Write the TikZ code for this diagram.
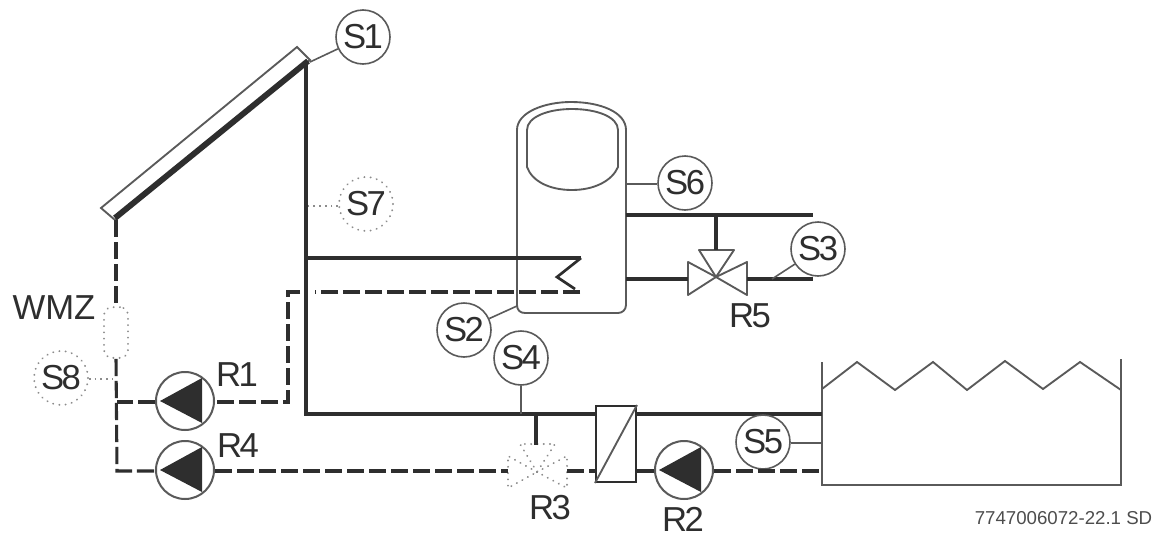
\documentclass[tikz,border=0pt]{standalone}
\usepackage{fontspec}
\setmainfont{Liberation Sans}
\newfontfamily\tagfont[LetterSpace=-7]{Liberation Sans}
\usetikzlibrary{calc}
\definecolor{ink}{HTML}{2E2E2E}
\definecolor{thinink}{HTML}{5A5A5A}
\definecolor{dotink}{HTML}{8C8C8C}
\tikzset{
  pipe/.style={draw=ink,line width=2.3pt},
  dpipe/.style={draw=ink,line width=2.3pt,dash pattern=on 13pt off 3.5pt},
  thin line/.style={draw=thinink,line width=1.4pt},
  lead/.style={draw=thinink,line width=1.2pt},
  dotlead/.style={draw=dotink,line width=1.3pt,dash pattern=on 1.3pt off 3pt},
  dotshape/.style={draw=dotink,line width=1.5pt,line cap=round,dash pattern=on 0.1pt off 4.6pt},
  lbl/.style={font=\tagfont\fontsize{26}{26}\selectfont,text=ink,inner sep=0pt},
  sensor/.style={circle,draw=thinink,line width=1.2pt,fill=white,minimum size=40.5pt,inner sep=0pt,font=\tagfont\fontsize{26}{26}\selectfont,text=ink},
  dsensor/.style={sensor,draw=dotink,line width=1.5pt,line cap=round,dash pattern=on 0.1pt off 4.6pt,fill=none},
  pumpc/.style={circle,draw=thinink,line width=1.5pt,fill=white,minimum size=43.5pt,inner sep=0pt},
  pic pump/.pic={\fill[ink] (-25,0) -- (17,-23) -- (17,22) -- cycle;}
}
\begin{document}
\begin{tikzpicture}[x=0.75pt,y=-0.75pt]
\path[use as bounding box,fill=white] (0,0) rectangle (1167,543);

% named points
\coordinate (ct) at (306,60);
\coordinate (cb) at (116,220);
\coordinate (s7p) at (306,206);
\coordinate (hxtop) at (306,258);
\coordinate (coilA) at (581,258);
\coordinate (coilB) at (557,277);
\coordinate (coilC) at (575,289);
\coordinate (coilD) at (580,292);
\coordinate (dTop) at (288,292);
\coordinate (dGapL) at (300,292);
\coordinate (dGapR) at (315,292);
\coordinate (dBot) at (288,402);
\coordinate (juncR1) at (117,402);
\coordinate (corner) at (117,471);
\coordinate (bot) at (306,414);
\coordinate (s4p) at (521,414);
\coordinate (r3p) at (536,414);
\coordinate (poolA) at (822,414);
\coordinate (poolB) at (822,443);
\coordinate (poolC) at (822,471);
\coordinate (tankA) at (626,215);
\coordinate (tankB) at (626,279);
\coordinate (tankC) at (626,184);
\coordinate (tankD) at (517,306);
\coordinate (endA) at (813,215);
\coordinate (endB) at (813,279);
\coordinate (brA) at (716,215);
\coordinate (s3p) at (772,279);
\coordinate (s1p) at (310,62);

% collector
\draw[thin line,line join=miter] (297,47) -- (310,60) -- (115,220) -- (101,208) -- cycle;
\draw[draw=ink,line width=4.4pt] (308,61) -- (115,218);

% tank
\draw[thin line] (517,130) .. controls (517,112) and (545,102) .. (571,102)
  .. controls (600,102) and (626,112) .. (626,130) -- (626,305)
  .. controls (626,310) and (622,313) .. (618,313) -- (525,313)
  .. controls (520,313) and (517,310) .. (517,305) -- cycle;
\draw[thin line] (527,130) .. controls (527,117) and (548,109) .. (572,109)
  .. controls (597,109) and (618,117) .. (618,130) -- (618,167)
  .. controls (612,181) and (594,190) .. (572,190)
  .. controls (549,190) and (532,181) .. (527,167) -- cycle;

% pool
\draw[thin line] (822,362) -- (822,485) -- (1121,485) -- (1121,359);
\draw[thin line] (822,389) -- (857,362) -- (895,390) -- (933,362) -- (967,390)
  -- (1005,361) -- (1043,389) -- (1080,362) -- (1121,390);

% heat exchanger
\node[draw=ink,line width=1.5pt,fill=white,minimum width=30pt,minimum height=57pt,inner sep=0pt] (hx) at (616,444) {};
\draw[thin line] (hx.south west) -- (hx.north east);

% wmz
\node[rectangle,rounded corners=6pt,dotshape,minimum width=18pt,minimum height=38pt,inner sep=0pt] (wmz) at (116,332.5) {};

% pumps
\node[pumpc] (r1) at (185,401) {};
\node[pumpc] (r4) at (185,470) {};
\node[pumpc] (r2) at (684,470) {};
\path (r1.center) pic {pic pump};
\path (r4.center) pic {pic pump};
\path (r2.center) pic {pic pump};

% R5 valve
\coordinate (r5) at (716,277);
\draw[thin line,line join=round] (r5) -- (699,250) -- (734,250) -- cycle;
\draw[thin line,line join=round] (r5) -- (688,262) -- (688,295) -- cycle;
\draw[thin line,line join=round] (r5) -- (747,262) -- (747,295) -- cycle;
\coordinate (r5t) at (716,250);
\coordinate (r5l) at (688,279);
\coordinate (r5r) at (747,279);

% R3 valve
\coordinate (r3) at (537,472);
\draw[dotshape] (r3) -- (520,444) -- (555,444) -- cycle;
\draw[dotshape] (r3) -- (508,456) -- (508,488) -- cycle;
\draw[dotshape] (r3) -- (567,456) -- (567,488) -- cycle;
\coordinate (r3t) at (536,445);
\coordinate (r3l) at (508,471);
\coordinate (r3r) at (567,471);

% pipes
\draw[pipe] (s1p -| ct) -- (bot) -- (s4p) -- (r3p) -- (hx.west |- bot);
\draw[pipe] (hx.east |- bot) -- (poolA);
\draw[pipe] (hxtop) -- (coilA);
\draw[draw=ink,line width=2pt,line join=miter] (coilA) -- (coilB) -- (coilC);
\draw[dpipe] (coilD) -- (dGapR);
\draw[dpipe] (dGapL) -- (dTop) -- (dBot) -- (r1.east |- dBot);
\draw[dpipe] (r1.west |- juncR1) -- (juncR1);
\draw[dpipe] (cb) -- (wmz.north);
\draw[dpipe] (wmz.south) -- (corner) -- (r4.west |- corner);
\draw[dpipe] (r4.east |- corner) -- (r3l);
\draw[dpipe] (r3r) -- (hx.west |- r3r);
\draw[dpipe] (hx.east |- r3r) -- (r2.west |- r3r);
\draw[pipe] (r3p) -- (r3t);
\draw[pipe] (tankA) -- (endA);
\draw[pipe] (brA) -- (r5t);
\draw[pipe] (tankB) -- (r5l);
\draw[pipe] (r5r) -- (endB);

% sensors
\node[sensor] (s1) at (363,37) {S1};
\node[dsensor] (s7) at (366,204) {S7};
\node[sensor] (s6) at (685,183) {S6};
\node[sensor] (s3) at (818,249) {S3};
\node[sensor] (s2) at (464,330) {S2};
\node[sensor] (s4) at (521,358) {S4};
\node[sensor] (s5) at (763,442) {S5};
\node[dsensor] (s8) at (61,378) {S8};

\draw[dpipe] (r2.east |- poolC) -- (poolC);

% leads
\draw[lead] (s1) -- (s1p);
\draw[dotlead] (s7.west |- s7p) -- (s7p);
\draw[lead] (s6.west |- tankC) -- (tankC);
\draw[lead] (s3) -- (s3p);
\draw[lead] (s2) -- (tankD);
\draw[lead] (s4) -- (s4p);
\draw[lead] (s5.east |- poolB) -- (poolB);
\coordinate (s8p) at (113,379);
\draw[dotlead] (s8.east |- s8p) -- (s8p);

% labels
\node[inner sep=0pt,font=\fontsize{26}{26}\selectfont,text=ink] (lwmz) at (54,308) {WMZ};
\node[lbl] (lr1) at (237,375) {R1};
\node[lbl] (lr4) at (238,446) {R4};
\node[lbl] (lr5) at (750,316) {R5};
\node[lbl] (lr3) at (550,508) {R3};
\node[lbl] (lr2) at (683,519) {R2};
\node[font=\fontsize{14}{14}\selectfont,text=ink!85,inner sep=0pt] (code) at (1063.5,518) {7747006072-22.1 SD};
\end{tikzpicture}
\end{document}
